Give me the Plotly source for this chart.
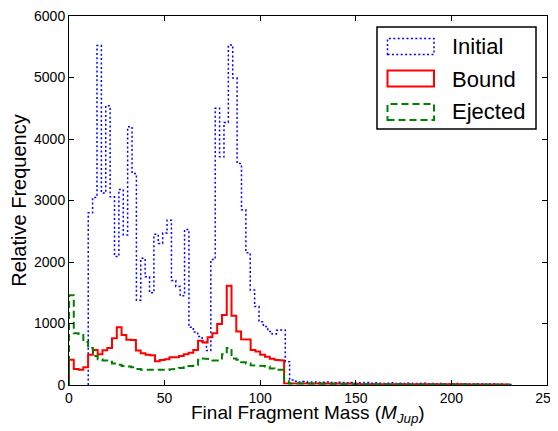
import plotly.graph_objects as go

# ---------------- data ----------------
# Bound and Ejected: bins of 2.5 M_Jup starting at 0
final_bin_start = 0.0
final_bin_width = 2.5
bound_counts = [410, 260, 250, 290, 490, 570, 500, 565, 600, 760,
                940, 815, 735, 730, 560, 515, 490, 485, 385, 405,
                420, 450, 450, 470, 500, 525, 570, 720, 690, 775,
                840, 990, 1140, 1615, 1125, 870, 745, 740, 570, 545,
                490, 460, 425, 410, 400,
                30, 28, 25, 30, 22, 26, 24, 20, 28, 22,
                18, 24, 20, 22, 18, 20, 16, 22, 18, 20,
                15, 18, 16, 20, 14, 18, 15, 16, 12, 15,
                14, 12, 15, 10, 12, 14, 10, 12, 8, 10,
                12, 8, 10, 8, 10, 6, 8]
ejected_counts = [1460, 840, 830, 700, 600, 470, 420, 400, 380, 350,
                  330, 310, 300, 290, 260, 250, 250, 240, 240, 240,
                  245, 255, 265, 275, 290, 310, 330, 410, 430, 420,
                  400, 400, 500, 600, 430, 410, 370, 350, 320, 320,
                  310, 300, 270, 250, 250,
                  60, 25, 22, 20, 24, 18, 20, 16, 22, 18,
                  20, 15, 18, 16, 14, 18, 15, 12, 16, 14,
                  12, 15, 10, 14, 12, 10, 12, 10, 8, 12,
                  10, 8, 10, 8, 6, 10, 8, 6, 8, 6,
                  5, 8, 6, 5, 6, 4, 5]
# Initial: finer bins
initial_bin_start = 10.06
initial_bin_width = 2.29
initial_counts = [2800, 3050, 5520, 3120, 4540, 3060, 2090, 3180, 2440, 4200,
                  3440, 1380, 2060, 1760, 1500, 2450, 2300, 2470, 2680, 1700,
                  1600, 1450, 2530, 940, 860, 790, 700, 560, 2040, 4500,
                  3710, 4270, 5530, 4990, 3600, 2850, 2150, 1545, 1275, 1030,
                  950, 870, 830, 890, 895, 380, 80,
                  60, 50, 55, 45, 50, 40, 45, 50, 40, 35,
                  45, 40, 35, 40, 30, 35, 40, 30, 35, 30,
                  25, 30, 35, 25, 30, 25, 30, 20, 25, 30,
                  20, 25, 20, 25, 20, 15, 20, 25, 15, 20,
                  15, 20, 15, 10, 15, 20, 10, 15, 10, 10]

series_names = ["Initial", "Bound", "Ejected"]
x_ticks = [0, 50, 100, 150, 200, 250]
y_ticks = [0, 1000, 2000, 3000, 4000, 5000, 6000]
x_title = "Final Fragment Mass (<i>M</i><sub><i>Jup</i></sub>)"
y_title = "Relative Frequency"


def step_outline(start, width, counts):
    edges = [start + width * i for i in range(len(counts) + 1)]
    xs, ys = [edges[0]], [0]
    for i, c in enumerate(counts):
        xs += [edges[i], edges[i + 1]]
        ys += [c, c]
    xs.append(edges[-1])
    ys.append(0)
    return xs, ys


FONT = "Liberation Sans, Arial, sans-serif"
BLUE, RED, GREEN = "#0000ff", "#ff0000", "#008000"
DOT = "2px,2.4px"
DASH = "7px,4px"

fig = go.Figure()
xi, yi = step_outline(initial_bin_start, initial_bin_width, initial_counts)
xb, yb = step_outline(final_bin_start, final_bin_width, bound_counts)
xe, ye = step_outline(final_bin_start, final_bin_width, ejected_counts)
fig.add_trace(go.Scatter(x=xi, y=yi, mode="lines", name=series_names[0],
                         line=dict(color=BLUE, width=1.5, dash=DOT)))
fig.add_trace(go.Scatter(x=xb, y=yb, mode="lines", name=series_names[1],
                         line=dict(color=RED, width=2)))
fig.add_trace(go.Scatter(x=xe, y=ye, mode="lines", name=series_names[2],
                         line=dict(color=GREEN, width=2, dash=DASH)))

axis_common = dict(showgrid=False, zeroline=False, showline=True, linecolor="black",
                   linewidth=1, mirror="ticks", ticks="inside", ticklen=5,
                   tickcolor="black", tickwidth=1, automargin=False,
                   ticklabeloverflow="allow",
                   tickfont=dict(family=FONT, size=14, color="black"))

# the page body adds an 8px offset, so the figure is sized to fill the rest
# of the 558x431 window and the plot box lands where the reference has it
fig.update_layout(
    width=550, height=423,
    margin=dict(l=61, r=11, t=8, b=46, autoexpand=False),
    paper_bgcolor="white", plot_bgcolor="white",
    showlegend=False,
    font=dict(family=FONT, color="black"),
    xaxis=dict(range=[0, 250], tickvals=x_ticks, **axis_common),
    yaxis=dict(range=[0, 6000], tickvals=y_ticks,
               title=dict(text=y_title,
                          font=dict(family=FONT, size=20, color="black"), standoff=8),
               **axis_common),
)


def px_x(px):
    return (px - 69) / 478.0


def px_y(py):
    return (385 - py) / 369.0


# x axis title
fig.add_annotation(xref="paper", yref="paper", x=0.5, y=px_y(401), text=x_title,
                   showarrow=False, xanchor="center", yanchor="top", borderpad=0,
                   font=dict(family=FONT, size=19, color="black"))

# legend drawn as matplotlib-style patches
shapes = [dict(type="rect", xref="paper", yref="paper",
               x0=px_x(377), x1=px_x(536), y0=px_y(129), y1=px_y(27),
               line=dict(color="black", width=1.5), fillcolor="white", layer="above")]
patch_rows = [(38.5, 54.5, BLUE, DOT, 1.5), (70.5, 86.5, RED, "solid", 2),
              (104, 120, GREEN, DASH, 2)]
for (top, bot, col, dash, w) in patch_rows:
    shapes.append(dict(type="rect", xref="paper", yref="paper",
                       x0=px_x(387.5), x1=px_x(434), y0=px_y(bot), y1=px_y(top),
                       line=dict(color=col, width=w, dash=dash), layer="above"))
fig.update_layout(shapes=shapes)

text_rows = [46, 79, 112]
for name, cy in zip(series_names, text_rows):
    fig.add_annotation(xref="paper", yref="paper", x=px_x(450), y=px_y(cy),
                       text=name, showarrow=False, xanchor="left", yanchor="middle",
                       font=dict(family=FONT, size=22, color="black"))

fig.write_html("out.html")
